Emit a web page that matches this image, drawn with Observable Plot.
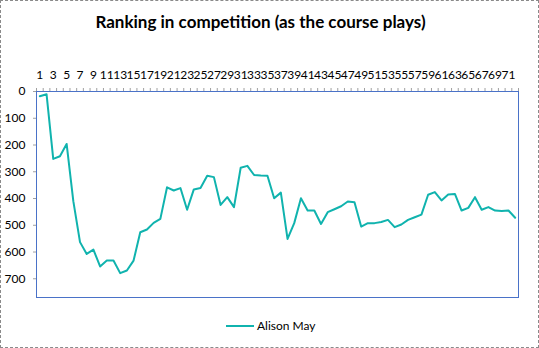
<!DOCTYPE html>
<html>
<head>
<meta charset="utf-8">
<script src="https://cdn.jsdelivr.net/npm/d3@7"></script>
<script src="https://cdn.jsdelivr.net/npm/@observablehq/plot@0.6"></script>
<style>
  html, body { margin: 0; padding: 0; background: #fff; }
  #chart { position: relative; width: 539px; height: 348px; font-family: Lato, "Open Sans", sans-serif; overflow: hidden; background: #fff; }
  #border { position: absolute; left: 0; top: 0; width: 539px; height: 348px; box-sizing: border-box; border: 1px dashed #8a8a8a; pointer-events: none; }
  #title { position: absolute; left: -9px; width: 539px; top: 11px; text-align: center; font-weight: bold; font-size: 17px; color: #000; }
  #plot { position: absolute; left: 0; top: 0; }
  #legend { position: absolute; left: 226px; top: 318px; font-size: 12px; color: #000; display: flex; align-items: center; }
  #legend .sw { display: inline-block; width: 28px; height: 2px; background: #10b3ae; margin-right: 3px; }
</style>
</head>
<body>
<div id="chart">
  <div id="title">Ranking in competition (as the course plays)</div>
  <div id="plot"></div>
  <div id="legend"><span class="sw"></span><span>Alison May</span></div>
  <div id="border"></div>
</div>
<script>
const seriesName = "Alison May";
const rounds = [1,2,3,4,5,6,7,8,9,10,11,12,13,14,15,16,17,18,19,20,21,22,23,24,25,26,27,28,29,30,31,32,33,34,35,36,
                37,38,39,40,41,42,43,44,45,46,47,48,49,50,51,52,53,54,55,56,57,58,59,60,61,62,63,64,65,66,67,68,69,70,71,72];
const ranking = [18,10,252,242,196,410,563,607,591,654,632,632,679,669,632,526,516,491,476,358,370,361,442,366,361,315,320,424,395,432,285,278,312,314,315,399,
                 378,551,492,399,445,445,495,451,440,429,411,414,505,492,492,488,480,507,497,480,470,460,386,376,407,385,383,445,435,395,442,432,445,447,445,472];
const xTickLabels = [1,3,5,7,9,11,13,15,17,19,21,23,25,27,29,31,33,35,37,39,41,43,45,47,49,51,53,55,57,59,61,63,65,67,69,71];
const xBoundaries = [0.5,1.5,2.5,3.5,4.5,5.5,6.5,7.5,8.5,9.5,10.5,11.5,12.5,13.5,14.5,15.5,16.5,17.5,18.5,19.5,20.5,21.5,22.5,23.5,24.5,25.5,26.5,27.5,28.5,29.5,30.5,31.5,32.5,33.5,34.5,35.5,
                     36.5,37.5,38.5,39.5,40.5,41.5,42.5,43.5,44.5,45.5,46.5,47.5,48.5,49.5,50.5,51.5,52.5,53.5,54.5,55.5,56.5,57.5,58.5,59.5,60.5,61.5,62.5,63.5,64.5,65.5,66.5,67.5,68.5,69.5,70.5,71.5,72.5];
const yTicks = [0,100,200,300,400,500,600,700];

const data = rounds.map((r, i) => ({round: r, rank: ranking[i]}));

const chart = Plot.plot({
  width: 539,
  height: 348,
  marginLeft: 36,
  marginTop: 91,
  marginRight: 21,
  marginBottom: 51,
  style: { fontFamily: "Lato, 'Open Sans', sans-serif", fontSize: "12px", color: "#000", background: "transparent" },
  x: { domain: [0.5, 72.5] },
  y: { domain: [0, 770], reverse: true },
  marks: [
    Plot.axisX(xBoundaries, { anchor: "top", tickSize: 4, stroke: "#a0a0a0", tickFormat: () => "", label: null }),
    Plot.axisX(xTickLabels, { anchor: "top", tickSize: 0, tickPadding: 13, fontSize: 12, label: null }),
    Plot.axisY(yTicks, { tickSize: 3, tickPadding: 8, stroke: "#a0a0a0", fontSize: 12, label: null }),
    Plot.frame({ stroke: "#4a72c8" }),
    Plot.line(data, { x: "round", y: "rank", stroke: "#10b3ae", strokeWidth: 2 })
  ]
});
document.getElementById("plot").appendChild(chart);
</script>
</body>
</html>
